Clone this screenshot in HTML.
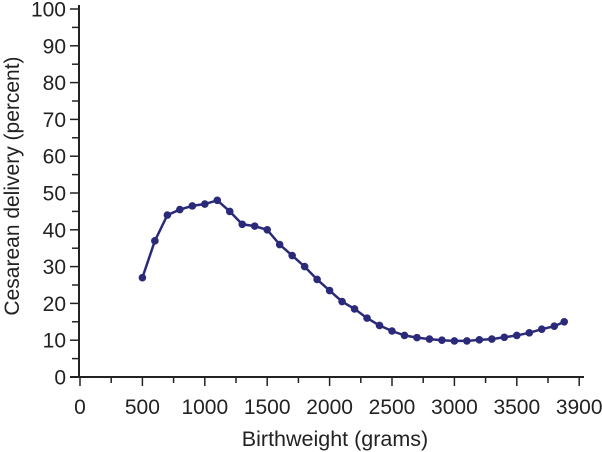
<!DOCTYPE html>
<html><head><meta charset="utf-8"><style>html,body{margin:0;padding:0;background:#fff}svg{display:block}text{font-family:"Liberation Sans",sans-serif;fill:#222}</style></head><body>
<svg width="602" height="452" viewBox="0 0 602 452" xmlns="http://www.w3.org/2000/svg">
<g stroke="#222" stroke-width="2" fill="none">
<line x1="79" y1="5" x2="79" y2="378"/>
<line x1="70" y1="377" x2="584" y2="377"/>
</g>
<g stroke="#222" stroke-width="1.5" id="ticks"></g>
<g id="ylab" font-size="21" text-anchor="end"></g>
<g id="xlab" font-size="21" text-anchor="middle"></g>
<text x="335" y="446" font-size="21.5" text-anchor="middle">Birthweight (grams)</text>
<text transform="translate(19,186) rotate(-90)" font-size="21" text-anchor="middle">Cesarean delivery (percent)</text>
<polyline id="line" fill="none" stroke="#2b2a7a" stroke-width="2.5"/>
<g id="pts" fill="#2b2a7a"></g>
<script>
var ns="http://www.w3.org/2000/svg";
function X(v){return 80+v*62.4/500}
function Y(v){return 377-v*3.68}
var t=document.getElementById('ticks'),yl=document.getElementById('ylab'),xl=document.getElementById('xlab');
for(var i=0;i<=20;i++){var y=Y(i*5);var l=document.createElementNS(ns,'line');l.setAttribute('x1',i%2?72:70);l.setAttribute('x2',79);l.setAttribute('y1',y);l.setAttribute('y2',y);t.appendChild(l);
if(i%2==0){var tx=document.createElementNS(ns,'text');tx.setAttribute('x',66);tx.setAttribute('y',y+7.5);tx.textContent=i*5;yl.appendChild(tx);}}
for(var i=0;i<=16;i++){var x=X(i*250);var l=document.createElementNS(ns,'line');l.setAttribute('x1',x);l.setAttribute('x2',x);l.setAttribute('y1',377);l.setAttribute('y2',i%2?383:386);t.appendChild(l);
if(i%2==0){var tx=document.createElementNS(ns,'text');tx.setAttribute('x',x);tx.setAttribute('y',414);tx.textContent=i==16?3900:i*250;xl.appendChild(tx);}}
var d=[[500,27],[600,37],[700,44],[800,45.5],[900,46.5],[1000,47],[1100,48],[1200,45],[1300,41.5],[1400,41],[1500,40],[1600,36],[1700,33],[1800,30],[1900,26.5],[2000,23.5],[2100,20.5],[2200,18.5],[2300,16],[2400,14],[2500,12.5],[2600,11.3],[2700,10.7],[2800,10.3],[2900,10],[3000,9.8],[3100,9.8],[3200,10.1],[3300,10.3],[3400,10.8],[3500,11.3],[3600,12],[3700,13],[3800,13.8],[3880,15]];
var p=[],g=document.getElementById('pts');
d.forEach(function(a){var x=X(a[0]),y=Y(a[1]);p.push(x+','+y);var c=document.createElementNS(ns,'circle');c.setAttribute('cx',x);c.setAttribute('cy',y);c.setAttribute('r',3.8);g.appendChild(c);});
document.getElementById('line').setAttribute('points',p.join(' '));
</script>
</svg>
</body></html>
